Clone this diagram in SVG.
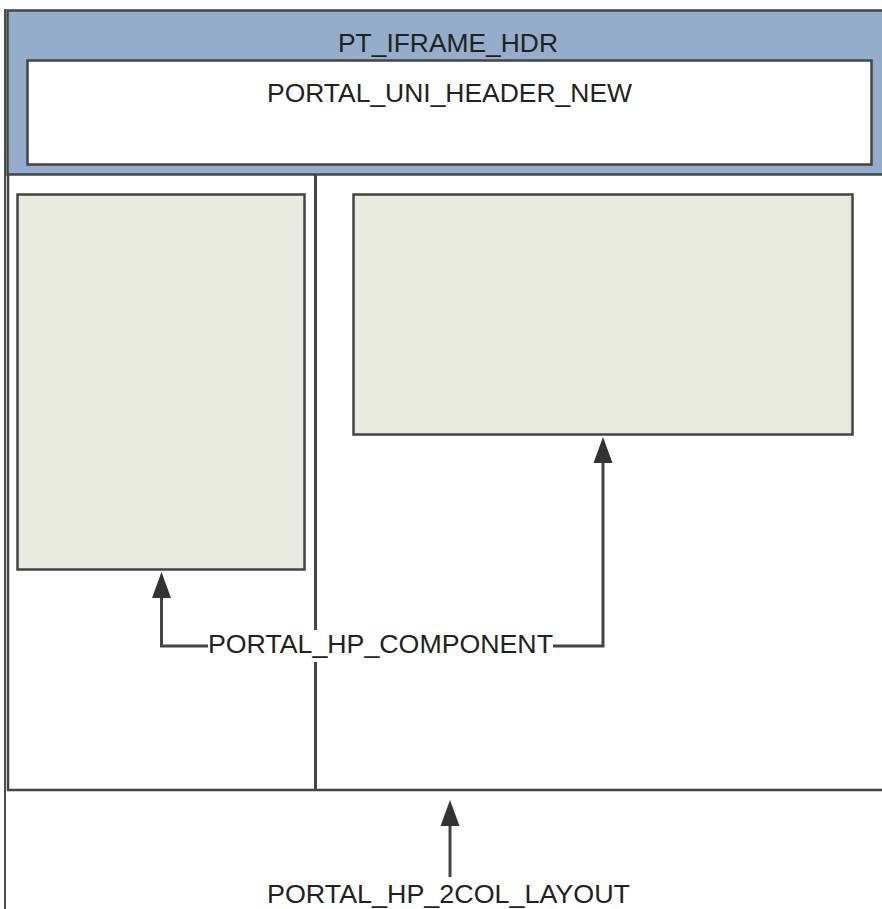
<svg xmlns="http://www.w3.org/2000/svg" width="882" height="909" viewBox="0 0 882 909">
<defs>
<style>
.lbl{font-family:"Liberation Sans",Arial,sans-serif;font-size:25px;fill:#222;}
.box{stroke:#444;stroke-width:2.5;}
.conn{fill:none;stroke:#444;stroke-width:3;}
</style>
<marker id="arr" markerUnits="userSpaceOnUse" markerWidth="26" markerHeight="20" refX="0" refY="10" orient="auto" viewBox="0 0 26 20">
<path d="M0,0.5 L26,10 L0,19.5 z" fill="#333"/>
</marker>
</defs>
<rect width="882" height="909" fill="#fff"/>
<line x1="5" y1="9" x2="5" y2="909" stroke="#111" stroke-width="1.5"/>
<g id="layout">
<path d="M8,175 L8,790 L882,790" fill="none" stroke="#444" stroke-width="2.5"/>
</g>
<g id="pt_iframe_hdr">
<rect x="7.5" y="10.5" width="880" height="164" fill="#94ADCB" class="box"/>
<text class="lbl" x="448" y="52" text-anchor="middle" textLength="220" lengthAdjust="spacingAndGlyphs">PT_IFRAME_HDR</text>
</g>
<g id="portal_uni_header_new">
<rect x="27.5" y="60.5" width="844" height="104" fill="#fff" class="box"/>
<text class="lbl" x="449.5" y="102" text-anchor="middle" textLength="365" lengthAdjust="spacingAndGlyphs">PORTAL_UNI_HEADER_NEW</text>
</g>
<g id="divider">
<line x1="315.5" y1="175" x2="315.5" y2="630" stroke="#444" stroke-width="3"/>
<line x1="315.5" y1="662" x2="315.5" y2="790" stroke="#444" stroke-width="3"/>
</g>
<g id="left_component">
<rect x="17.5" y="194.5" width="287" height="375" fill="#E9EADF" class="box"/>
</g>
<g id="right_component">
<rect x="353.5" y="194.5" width="499" height="240" fill="#E9EADF" class="box"/>
</g>
<g id="connectors">
<path class="conn" d="M208,646 L161.5,646 L161.5,598" marker-end="url(#arr)"/>
<path class="conn" d="M553,646 L603,646 L603,463" marker-end="url(#arr)"/>
<path class="conn" d="M450,877 L450,826" marker-end="url(#arr)"/>
</g>
<g id="portal_hp_component">
<text class="lbl" x="208" y="653" textLength="345" lengthAdjust="spacingAndGlyphs">PORTAL_HP_COMPONENT</text>
</g>
<g id="portal_hp_2col_layout">
<text class="lbl" x="267" y="903" textLength="363" lengthAdjust="spacingAndGlyphs">PORTAL_HP_2COL_LAYOUT</text>
</g>
</svg>
